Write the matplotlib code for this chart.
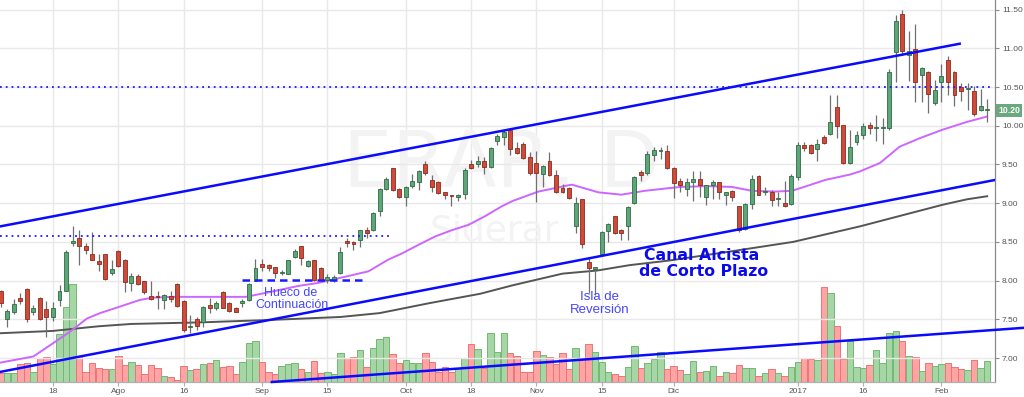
import matplotlib
matplotlib.use("Agg")
import matplotlib.pyplot as plt
import numpy as np

# daily candles, ERAR (Siderar) Jul-2016 .. Feb-2017, one row per trading day
opens = [7.86, 7.50, 7.59, 7.77, 7.89, 7.60, 7.78, 7.63, 7.53, 7.75,
         7.87, 8.48, 8.55, 8.45, 8.35, 8.25, 8.34, 8.10, 8.38, 8.27,
         7.97, 8.06, 8.00, 7.80, 7.795, 7.75, 7.80, 7.96, 7.73, 7.40,
         7.50, 7.47, 7.68, 7.64, 7.85, 7.71, 7.65, 7.71, 7.75, 8.00,
         8.21, 8.20, 8.17, 8.10, 8.09, 8.30, 8.45, 8.19, 8.26, 8.16,
         8.01, 8.01, 8.10, 8.51, 8.50, 8.52, 8.65, 8.65, 8.90, 9.18,
         9.45, 9.18, 9.08, 9.22, 9.28, 9.51, 9.30, 9.27, 9.14, 9.10,
         9.08, 9.12, 9.50, 9.50, 9.55, 9.47, 9.80, 9.86, 9.95, 9.71,
         9.76, 9.60, 9.52, 9.38, 9.55, 9.37, 9.20, 9.20, 8.70, 9.05,
         8.24, 8.15, 8.35, 8.64, 8.83, 8.65, 8.70, 9.00, 9.40, 9.39,
         9.62, 9.67, 9.67, 9.46, 9.29, 9.18, 9.27, 9.31, 9.08, 9.23,
         9.27, 9.10, 9.16, 8.96, 8.67, 8.99, 9.35, 9.15, 9.15, 9.05,
         9.00, 8.99, 9.34, 9.75, 9.75, 9.70, 9.85, 9.90, 10.24, 10.01,
         9.52, 9.79, 9.88, 10.01, 9.975, 9.975, 9.97, 10.95, 11.45, 10.91,
         10.99, 10.66, 10.70, 10.30, 10.56, 10.85, 10.70, 10.50, 10.47, 10.45,
         10.20, 10.20]
highs = [7.88, 7.63, 7.76, 7.84, 7.91, 7.69, 7.79, 7.73, 7.72, 7.94,
         8.39, 8.71, 8.65, 8.48, 8.63, 8.35, 8.35, 8.26, 8.39, 8.28,
         8.10, 8.08, 8.00, 7.99, 7.87, 7.83, 7.87, 7.97, 7.75, 7.55,
         7.53, 7.67, 7.78, 7.74, 7.87, 7.72, 7.66, 7.76, 7.97, 8.28,
         8.28, 8.22, 8.18, 8.14, 8.27, 8.41, 8.45, 8.26, 8.27, 8.17,
         8.08, 8.07, 8.43, 8.55, 8.51, 8.66, 8.69, 8.88, 9.19, 9.34,
         9.46, 9.19, 9.22, 9.38, 9.43, 9.54, 9.36, 9.29, 9.15, 9.11,
         9.12, 9.45, 9.56, 9.61, 9.60, 9.72, 9.90, 9.94, 9.97, 9.79,
         9.79, 9.66, 9.67, 9.49, 9.66, 9.43, 9.25, 9.21, 9.08, 9.06,
         8.31, 8.18, 8.64, 8.75, 8.83, 8.67, 8.96, 9.35, 9.43, 9.68,
         9.73, 9.73, 9.75, 9.47, 9.33, 9.33, 9.41, 9.41, 9.24, 9.30,
         9.28, 9.15, 9.17, 8.97, 9.00, 9.36, 9.36, 9.21, 9.17, 9.15,
         9.29, 9.38, 9.79, 9.79, 9.76, 9.83, 9.88, 10.40, 10.40, 10.01,
         9.94, 9.93, 10.03, 10.05, 10.14, 10.10, 10.74, 11.43, 11.49, 11.22,
         11.32, 10.76, 10.71, 10.59, 10.80, 10.90, 10.71, 10.55, 10.55, 10.51,
         10.48, 10.34]
lows = [7.66, 7.40, 7.57, 7.70, 7.46, 7.55, 7.49, 7.27, 7.48, 7.67,
        7.86, 8.45, 8.20, 8.35, 8.26, 8.12, 8.01, 8.07, 8.18, 7.85,
        7.87, 7.94, 7.83, 7.75, 7.63, 7.63, 7.72, 7.66, 7.34, 7.32,
        7.36, 7.40, 7.58, 7.62, 7.64, 7.60, 7.59, 7.66, 7.74, 7.99,
        8.12, 8.13, 8.04, 8.07, 8.08, 8.29, 8.20, 8.18, 8.00, 7.99,
        7.97, 7.98, 8.08, 8.44, 8.39, 8.44, 8.55, 8.64, 8.84, 9.17,
        9.16, 9.07, 8.96, 9.20, 9.17, 9.37, 9.14, 9.12, 9.05, 8.97,
        9.03, 9.05, 9.44, 9.47, 9.38, 9.46, 9.75, 9.75, 9.62, 9.64,
        9.57, 9.36, 9.02, 9.21, 9.35, 9.13, 9.13, 9.06, 8.62, 8.42,
        7.84, 7.82, 8.33, 8.50, 8.60, 8.53, 8.53, 8.99, 9.29, 9.37,
        9.54, 9.57, 9.44, 9.07, 9.15, 9.09, 9.03, 9.08, 8.98, 9.06,
        9.06, 8.98, 9.03, 8.63, 8.66, 8.92, 9.10, 9.11, 8.96, 8.96,
        8.95, 8.98, 9.30, 9.67, 9.64, 9.55, 9.77, 9.88, 9.84, 9.50,
        9.50, 9.75, 9.83, 9.90, 9.80, 9.76, 9.95, 10.57, 10.92, 10.58,
        10.31, 10.31, 10.17, 10.27, 10.31, 10.40, 10.26, 10.32, 10.21, 10.12,
        10.19, 10.05]
closes = [7.71, 7.61, 7.70, 7.74, 7.50, 7.65, 7.50, 7.53, 7.64, 7.86,
          8.37, 8.51, 8.45, 8.40, 8.27, 8.22, 8.02, 8.15, 8.19, 7.98,
          8.06, 7.95, 7.85, 7.76, 7.79, 7.81, 7.76, 7.67, 7.36, 7.41,
          7.41, 7.66, 7.65, 7.71, 7.65, 7.61, 7.60, 7.74, 7.96, 8.16,
          8.18, 8.16, 8.10, 8.105, 8.26, 8.38, 8.29, 8.25, 8.01, 8.01,
          8.05, 8.05, 8.37, 8.48, 8.47, 8.65, 8.62, 8.87, 9.18, 9.31,
          9.17, 9.08, 9.21, 9.29, 9.41, 9.39, 9.21, 9.13, 9.11, 9.09,
          9.10, 9.43, 9.45, 9.55, 9.47, 9.71, 9.87, 9.92, 9.70, 9.65,
          9.58, 9.39, 9.39, 9.48, 9.36, 9.14, 9.14, 9.07, 9.00, 8.47,
          8.16, 8.18, 8.63, 8.73, 8.61, 8.61, 8.95, 9.34, 9.36, 9.63,
          9.69, 9.675, 9.45, 9.26, 9.24, 9.27, 9.31, 9.24, 9.24, 9.28,
          9.15, 9.14, 9.08, 8.66, 8.99, 9.31, 9.11, 9.16, 9.04, 9.06,
          8.96, 9.35, 9.75, 9.71, 9.65, 9.76, 9.78, 10.05, 10.00, 9.52,
          9.72, 9.88, 10.00, 9.97, 9.98, 9.98, 10.70, 11.36, 10.96, 10.96,
          10.56, 10.75, 10.41, 10.46, 10.64, 10.56, 10.40, 10.45, 10.47, 10.15,
          10.25, 10.20]
# volume, thousands of shares
volume = [186, 186, 174, 360, 374, 194, 474, 506, 360, 960,
          1494, 1960, 520, 206, 374, 274, 260, 260, 520, 340,
          394, 340, 160, 340, 274, 126, 106, 50, 320, 240,
          254, 360, 374, 440, 306, 320, 160, 394, 774, 826,
          406, 194, 160, 320, 360, 374, 260, 206, 426, 174,
          206, 160, 574, 474, 494, 640, 294, 674, 854, 906,
          560, 374, 440, 374, 374, 574, 394, 206, 306, 206,
          274, 474, 760, 654, 286, 974, 606, 974, 574, 526,
          194, 206, 620, 540, 494, 360, 586, 260, 686, 454,
          754, 606, 394, 194, 160, 120, 306, 720, 274, 374,
          454, 606, 254, 320, 240, 160, 426, 206, 226, 326,
          126, 206, 174, 334, 274, 286, 120, 186, 266, 174,
          126, 294, 394, 474, 454, 434, 1894, 1774, 1120, 454,
          820, 294, 274, 340, 640, 386, 974, 1020, 820, 520,
          506, 220, 374, 326, 360, 386, 294, 260, 240, 440,
          274, 420]

# moving averages (bar position, price)
ma_fast_pos = [-0.1, 5, 8, 10.6, 13.2, 15.2, 18.1, 21.3, 23.3, 26.4, 32, 37.5, 40.5,
               45.5, 48.6, 51.2, 56.3, 59.3, 61.4, 63.9, 66.5, 69, 71.6, 74.1, 76.7,
               78.4, 82.3, 87.4, 91.5, 95, 98.6, 104, 108.2, 111.9, 115, 118.5, 121.1,
               122.6, 126.2, 130, 131.5, 134.6, 137.6, 140.7, 144.2, 147.9, 151]
ma_fast_val = [6.94, 7.02, 7.19, 7.34, 7.51, 7.58, 7.66, 7.75, 7.78, 7.79, 7.79, 7.79, 7.84,
               7.93, 7.97, 8.02, 8.12, 8.27, 8.35, 8.46, 8.57, 8.65, 8.72, 8.83, 8.96,
               9.03, 9.15, 9.24, 9.14, 9.11, 9.16, 9.21, 9.22, 9.21, 9.16, 9.15, 9.16,
               9.20, 9.30, 9.37, 9.41, 9.52, 9.73, 9.84, 9.95, 10.05, 10.12]
ma_slow_pos = [-0.1, 8, 15, 20, 30.5, 40.8, 52, 58, 65.7, 73.4, 78.4, 86, 91.3, 96.3,
               102.4, 111.2, 121.3, 131.5, 139.2, 144.2, 147.9, 151]
ma_slow_val = [7.32, 7.35, 7.41, 7.44, 7.46, 7.49, 7.53, 7.58, 7.71, 7.83, 7.94, 8.09, 8.13, 8.20,
               8.26, 8.37, 8.50, 8.70, 8.87, 8.98, 9.05, 9.09]

tick_pos = [8, 18, 28, 40, 50, 62, 72, 82, 92, 103, 122, 132, 144]
tick_lbl = ["18", "Ago", "16", "Sep", "15", "Oct", "18", "Nov", "15", "Dic", "2017", "16", "Feb"]
price_ticks = [7.0, 7.5, 8.0, 8.5, 9.0, 9.5, 10.0, 10.5, 11.0, 11.5]

# hand drawn lines: (x0, y0, x1, y1)
canal_sup = (-0.1, 8.70, 146.8, 11.06)
canal_inf = (-0.1, 6.82, 152.2, 9.30)
linea_vol = (41.5, 6.69, 156.6, 7.39)
nivel_resist = 10.50
nivel_previo = 8.57
hueco = 8.01

o = np.array(opens); h = np.array(highs); l = np.array(lows); c = np.array(closes)
x = np.arange(len(o))
up = c >= o

fig = plt.figure(figsize=(10.24, 3.97), dpi=100)
axv = fig.add_axes([0, 15 / 397, 995 / 1024, 382 / 397])
ax = axv.twinx()
axv.set_zorder(0)
ax.set_zorder(1)
ax.patch.set_visible(False)

xlim = (-0.11, 152.2)
axv.set_xlim(*xlim)
axv.set_ylim(0, 382 * 20)
axv.set_yticks([])
axv.set_axisbelow(True)
axv.grid(axis="x", color="#e8e8e8", lw=1)
vol_face = np.where(up, "#a6d6a6", "#ffa4a4")
vol_edge = np.where(up, "#72b872", "#ef7474")
axv.bar(x, volume, width=0.98, color=vol_face, edgecolor=vol_edge, linewidth=0.7)

ax.set_xlim(*xlim)
ax.set_ylim(6.69, 11.625)
ax.set_yticks(price_ticks)
ax.set_yticklabels(["%.2f" % p for p in price_ticks])
ax.grid(axis="y", color="#e8e8e8", lw=1)
axv.set_xticks(tick_pos)
axv.set_xticklabels(tick_lbl)

for a in (ax, axv):
    a.spines["top"].set_visible(False)
    a.spines["left"].set_visible(False)
    a.spines["right"].set_color("#8a8a8a")
    a.spines["bottom"].set_color("#b0b0b0")
ax.tick_params(axis="y", colors="#8a8a8a", labelcolor="#555555", labelsize=6, length=3, pad=2)
axv.tick_params(axis="x", colors="#b0b0b0", labelcolor="#555555", labelsize=6, length=3, pad=1)
for t in ax.get_yticklabels() + axv.get_xticklabels():
    t.set_family("Liberation Sans")

# watermark
ax.text(76.6, 9.21, "ERAR, D", fontsize=56, color="#f3f3f3", ha="center", va="baseline", zorder=0)
ax.text(75.5, 8.52, "Siderar", fontsize=26, color="#f3f3f3", ha="center", va="baseline", zorder=0)

# moving averages
ax.plot(ma_slow_pos, ma_slow_val, color="#555555", lw=1.4, zorder=2)
ax.plot(ma_fast_pos, ma_fast_val, color="#cc66ff", lw=1.4, zorder=2)

# candles
ax.vlines(x, l, h, color="#707070", lw=0.9, zorder=3)
body = np.maximum(np.abs(c - o), 0.012)
ax.bar(x, body, bottom=np.minimum(o, c), width=0.6,
       color=np.where(up, "#5ea577", "#d04a3a"),
       edgecolor=np.where(up, "#2e6b44", "#8c2a1e"), linewidth=0.6, zorder=3)

# channel and levels
ax.plot(canal_sup[::2], canal_sup[1::2], color="#0a0aff", lw=1.8, zorder=4)
ax.plot(canal_inf[::2], canal_inf[1::2], color="#0a0aff", lw=1.8, zorder=4)
ax.plot(linea_vol[::2], linea_vol[1::2], color="#0a0aff", lw=1.8, zorder=4, clip_on=False)
ax.plot([-0.1, 151.4], [nivel_resist] * 2, color="#1a1aff", lw=1.3, ls=(0, (1, 2.2)), zorder=4)
ax.plot([-0.1, 59.9], [nivel_previo] * 2, color="#1a1aff", lw=1.3, ls=(0, (1, 2.2)), zorder=4)
ax.plot([36.9, 55.8], [hueco] * 2, color="#1a1aff", lw=1.8, ls=(0, (3, 2)), zorder=4)

ann = dict(color="#4646ff", ha="center", va="baseline", family="Liberation Sans", zorder=5)
ax.text(44.4, 7.80, "Hueco de", fontsize=9, **ann)
ax.text(44.6, 7.65, "Continuación", fontsize=9, **ann)
ax.text(91.6, 7.75, "Isla de", fontsize=9.5, **ann)
ax.text(91.7, 7.585, "Reversión", fontsize=9.5, **ann)
ax.text(107.3, 8.27, "Canal Alcista", fontsize=11.3, fontweight="bold", color="#0a0aee",
        ha="center", va="baseline", zorder=5)
ax.text(107.6, 8.06, "de Corto Plazo", fontsize=11.3, fontweight="bold", color="#0a0aee",
        ha="center", va="baseline", zorder=5)

# last price tag
ax.annotate("%.2f" % closes[-1], xy=(1.003, closes[-1]), xycoords=("axes fraction", "data"),
            ha="left", va="center", fontsize=6.2, fontweight="bold", color="white",
            family="Liberation Sans", annotation_clip=False,
            bbox=dict(boxstyle="square,pad=0.25", fc="#6aa87e", ec="none"))

fig.savefig("out.png", dpi=100)
